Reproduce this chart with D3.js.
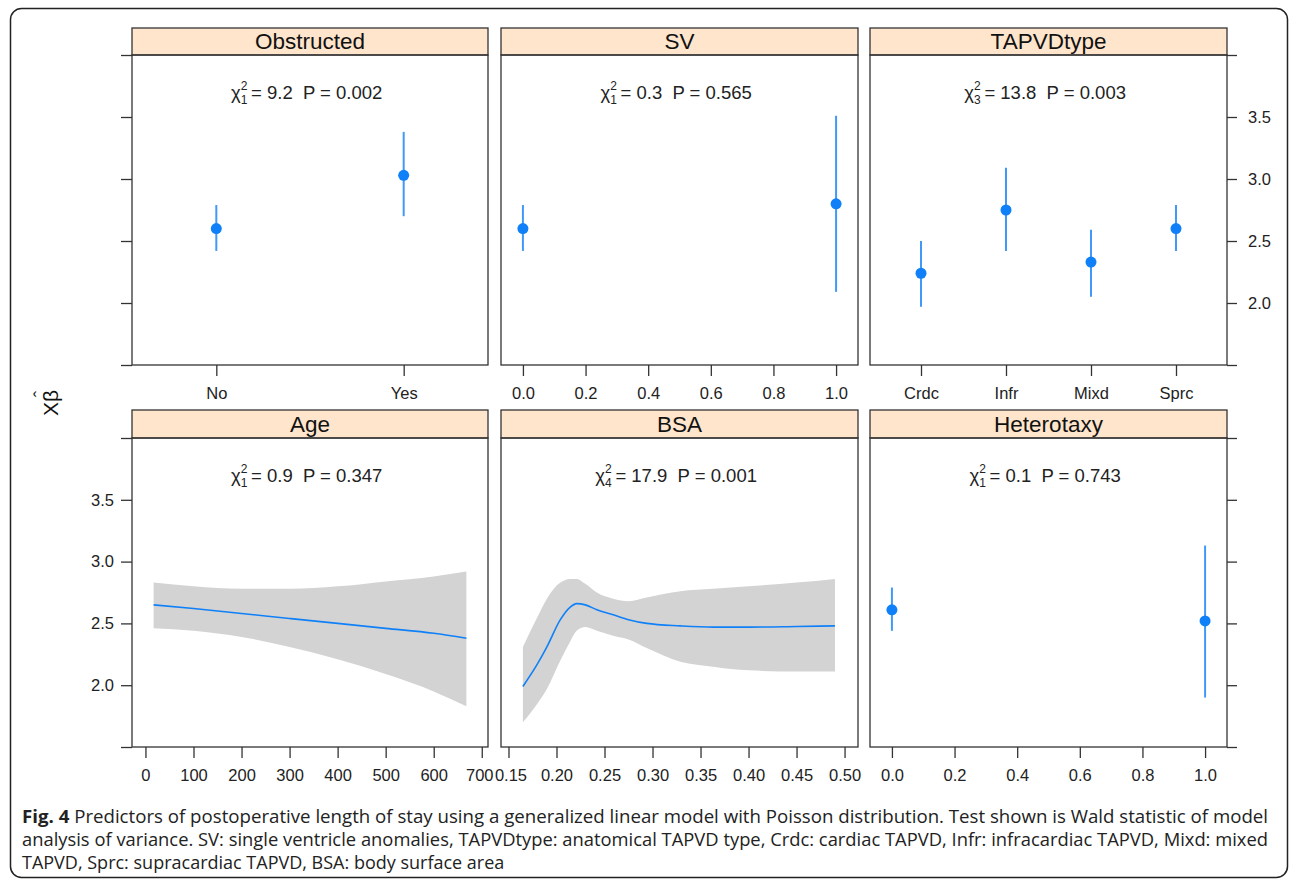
<!DOCTYPE html>
<html><head><meta charset="utf-8">
<script src="https://cdn.jsdelivr.net/npm/d3@7"></script>
<style>body{margin:0;background:#fff} svg{display:block}</style>
</head><body><svg id="c" width="1290" height="881"></svg>
<script>
// ---------------- data ----------------
const yTickLabels = [2.0, 2.5, 3.0, 3.5];
const yTickMarks = [1.5, 2.0, 2.5, 3.0, 3.5, 4.0];

const obstructedLevels = ["No", "Yes"];
const obstructedFit = [2.60, 3.03];
const obstructedLower = [2.42, 2.70];
const obstructedUpper = [2.79, 3.38];

const svValues = [0, 1];
const svFit = [2.60, 2.80];
const svLower = [2.42, 2.09];
const svUpper = [2.79, 3.51];
const svTicks = [0.0, 0.2, 0.4, 0.6, 0.8, 1.0];

const tapvdLevels = ["Crdc", "Infr", "Mixd", "Sprc"];
const tapvdFit = [2.24, 2.75, 2.33, 2.60];
const tapvdLower = [1.97, 2.42, 2.05, 2.42];
const tapvdUpper = [2.50, 3.09, 2.59, 2.79];

const ageX = [17, 100, 200, 300, 400, 500, 600, 668];
const ageFit = [2.65, 2.62, 2.58, 2.54, 2.50, 2.46, 2.42, 2.38];
const ageLower = [2.46, 2.44, 2.39, 2.31, 2.21, 2.09, 1.95, 1.83];
const ageUpper = [2.83, 2.80, 2.78, 2.78, 2.80, 2.84, 2.88, 2.92];
const ageTicks = [0, 100, 200, 300, 400, 500, 600, 700];

const bsaX     = [0.165, 0.180, 0.190, 0.204, 0.214, 0.221, 0.230, 0.242, 0.259, 0.275, 0.294, 0.329, 0.363, 0.400, 0.450, 0.490];
const bsaFit   = [1.99, 2.17, 2.31, 2.53, 2.63, 2.66, 2.65, 2.61, 2.57, 2.53, 2.50, 2.48, 2.47, 2.47, 2.475, 2.48];
const bsaUpper = [2.31, 2.55, 2.70, 2.83, 2.86, 2.86, 2.82, 2.75, 2.70, 2.68, 2.71, 2.76, 2.78, 2.80, 2.83, 2.86];
const bsaLower = [1.70, 1.85, 1.97, 2.20, 2.35, 2.44, 2.47, 2.44, 2.40, 2.37, 2.30, 2.19, 2.15, 2.12, 2.11, 2.11];
const bsaTicks = [0.15, 0.20, 0.25, 0.30, 0.35, 0.40, 0.45, 0.50];

const heteroValues = [0, 1];
const heteroFit = [2.61, 2.52];
const heteroLower = [2.44, 1.90];
const heteroUpper = [2.79, 3.13];
const heteroTicks = [0.0, 0.2, 0.4, 0.6, 0.8, 1.0];

const panelTitles = ["Obstructed", "SV", "TAPVDtype", "Age", "BSA", "Heterotaxy"];
const statDf   = ["1", "1", "3", "1", "4", "1"];
const statChi  = ["9.2", "0.3", "13.8", "0.9", "17.9", "0.1"];
const statP    = ["0.002", "0.565", "0.003", "0.347", "0.001", "0.743"];

const captionLines = [
  "Predictors of postoperative length of stay using a generalized linear model with Poisson distribution. Test shown is Wald statistic of model",
  "analysis of variance. SV: single ventricle anomalies, TAPVDtype: anatomical TAPVD type, Crdc: cardiac TAPVD, Infr: infracardiac TAPVD, Mixd: mixed",
  "TAPVD, Sprc: supracardiac TAPVD, BSA: body surface area"
];

// ---------------- layout ----------------
const svg = d3.select("#c");
const FONT = "'Liberation Sans', Arial, sans-serif";
const BLUE = "#1080f8";
const AXC = "#333";

svg.append("rect").attr("x", 10.5).attr("y", 8.5).attr("width", 1277).attr("height", 869)
  .attr("rx", 11).attr("fill", "none").attr("stroke", "#222").attr("stroke-width", 1.5);

const cols = [[132, 488], [501, 858], [870, 1227]];
const rows = [{strip: 28, top: 55, bottom: 365}, {strip: 410, top: 438, bottom: 747}];

function makeY(r) { return d3.scaleLinear().domain([1.5, 4.0]).range([r.bottom, r.top]); }

function styleAxis(ga) {
  ga.select(".domain").remove();
  ga.selectAll(".tick line").attr("stroke", AXC).attr("stroke-width", 1.3);
  ga.selectAll(".tick text").attr("font-family", FONT).attr("font-size", 16.5).attr("fill", "#222");
}

function drawFrame(i, xScale, tickVals, tickFmt) {
  const row = Math.floor(i / 3);
  const r = rows[row], c = cols[i % 3];
  const g = svg.append("g");
  const y = makeY(r);
  if (i % 3 === 0) {
    const left = d3.axisLeft(y).tickValues(yTickMarks).tickSize(11).tickPadding(7)
      .tickFormat(d => (row === 1 && yTickLabels.includes(d)) ? d3.format(".1f")(d) : "");
    styleAxis(g.append("g").attr("transform", `translate(${c[0]},0)`).call(left));
  }
  if (i % 3 === 2) {
    const right = d3.axisRight(y).tickValues(yTickMarks).tickSize(10).tickPadding(11)
      .tickFormat(d => (row === 0 && yTickLabels.includes(d)) ? d3.format(".1f")(d) : "");
    styleAxis(g.append("g").attr("transform", `translate(${c[1]},0)`).call(right));
  }
  const xa = d3.axisBottom(xScale).tickValues(tickVals).tickSize(11).tickPadding(11).tickFormat(tickFmt);
  const gx = g.append("g").attr("class", "xaxis" + i).attr("transform", `translate(0,${r.bottom})`).call(xa);
  styleAxis(gx);
  // strip
  g.append("rect").attr("x", c[0]).attr("y", r.strip).attr("width", c[1] - c[0]).attr("height", r.top - r.strip)
    .attr("fill", "#ffe5cc").attr("stroke", AXC).attr("stroke-width", 1.3);
  g.append("text").attr("x", (c[0] + c[1]) / 2).attr("y", r.top - 6).attr("text-anchor", "middle")
    .attr("font-family", FONT).attr("font-size", 22.5).attr("fill", "#111").text(panelTitles[i]);
  // panel box
  g.append("rect").attr("x", c[0]).attr("y", r.top).attr("width", c[1] - c[0]).attr("height", r.bottom - r.top)
    .attr("fill", "none").attr("stroke", AXC).attr("stroke-width", 1.3);
  // stat label
  const t = g.append("text").attr("y", r.top + 44).attr("font-family", FONT).attr("font-size", 18.5).attr("fill", "#222");
  t.append("tspan").text("χ");
  t.append("tspan").attr("font-size", 12).attr("dy", -9).text("2");
  t.append("tspan").attr("font-size", 12).attr("dx", -6.7).attr("dy", 14).text(statDf[i]);
  t.append("tspan").attr("dy", -5).text("\u2009= " + statChi[i] + "\u00a0\u00a0P = " + statP[i]);
  const w = t.node().getComputedTextLength();
  t.attr("x", (c[0] + c[1]) / 2 - w / 2);
  return {g, y, r, c, gx};
}

function drawPoints(p, xs, fit, lo, hi) {
  xs.forEach((xv, k) => {
    p.g.append("line").attr("x1", p.x(xv)).attr("x2", p.x(xv)).attr("y1", p.y(lo[k])).attr("y2", p.y(hi[k]))
      .attr("stroke", BLUE).attr("stroke-width", 2).attr("stroke-opacity", 0.8);
    p.g.append("circle").attr("cx", p.x(xv)).attr("cy", p.y(fit[k])).attr("r", 5.5).attr("fill", BLUE);
  });
}

function drawBand(p, xs, fit, lo, hi) {
  const area = d3.area().x((d, k) => p.x(xs[k])).y0((d, k) => p.y(lo[k])).y1((d, k) => p.y(hi[k])).curve(d3.curveMonotoneX);
  p.g.insert("path", ":first-child").datum(xs).attr("d", area).attr("fill", "#d3d3d3");
  const line = d3.line().x((d, k) => p.x(xs[k])).y((d, k) => p.y(fit[k])).curve(d3.curveMonotoneX);
  p.g.append("path").datum(xs).attr("d", line).attr("fill", "none").attr("stroke", BLUE).attr("stroke-width", 1.6);
}

{
  const x = d3.scaleLinear().domain([0.55, 2.45]).range(cols[0]);
  const p = drawFrame(0, x, [1, 2], d => obstructedLevels[d - 1]); p.x = x;
  drawPoints(p, [1, 2], obstructedFit, obstructedLower, obstructedUpper);
}
{
  const x = d3.scaleLinear().domain([-0.07, 1.07]).range(cols[1]);
  const p = drawFrame(1, x, svTicks, d3.format(".1f")); p.x = x;
  drawPoints(p, svValues, svFit, svLower, svUpper);
}
{
  const x = d3.scaleLinear().domain([0.4, 4.6]).range(cols[2]);
  const p = drawFrame(2, x, [1, 2, 3, 4], d => tapvdLevels[d - 1]); p.x = x;
  drawPoints(p, [1, 2, 3, 4], tapvdFit, tapvdLower, tapvdUpper);
}
{
  const x = d3.scaleLinear().domain([-28, 713]).range(cols[0]);
  const p = drawFrame(3, x, ageTicks, d3.format("d")); p.x = x;
  // the last label sits right against the neighbouring panel's first label
  p.gx.selectAll(".tick text").filter(d => d === 700).attr("dx", -2.5);
  drawBand(p, ageX, ageFit, ageLower, ageUpper);
}
{
  const x = d3.scaleLinear().domain([0.1422, 0.514]).range(cols[1]);
  const p = drawFrame(4, x, bsaTicks, d3.format(".2f")); p.x = x;
  p.gx.selectAll(".tick text").filter(d => d === 0.15).attr("dx", 2);
  drawBand(p, bsaX, bsaFit, bsaLower, bsaUpper);
}
{
  const x = d3.scaleLinear().domain([-0.07, 1.07]).range(cols[2]);
  const p = drawFrame(5, x, heteroTicks, d3.format(".1f")); p.x = x;
  drawPoints(p, heteroValues, heteroFit, heteroLower, heteroUpper);
}

// Y axis title  X beta-hat
{
  const g = svg.append("g").attr("transform", "translate(58,401) rotate(-90)");
  g.append("text").attr("x", -15).attr("y", 0).attr("font-family", FONT).attr("font-size", 21).attr("fill", "#111").text("Xβ");
  g.append("text").attr("x", 7).attr("y", -11).attr("text-anchor", "middle").attr("font-family", FONT).attr("font-size", 19).attr("fill", "#111").text("ˆ");
}

// Caption
{
  const CF = "'Open Sans', 'Noto Sans', sans-serif";
  const base = [823, 846, 869];
  captionLines.forEach((s, k) => {
    const t = svg.append("text").attr("x", 22).attr("y", base[k]).attr("font-family", CF).attr("font-size", 18).attr("fill", "#222");
    if (k === 0) {
      t.append("tspan").attr("font-weight", "bold").text("Fig. 4");
      t.append("tspan").text(" " + s);
    } else {
      t.text(s);
    }
    if (k < 2) t.attr("textLength", 1246).attr("lengthAdjust", "spacingAndGlyphs");
  });
}
</script></body></html>
